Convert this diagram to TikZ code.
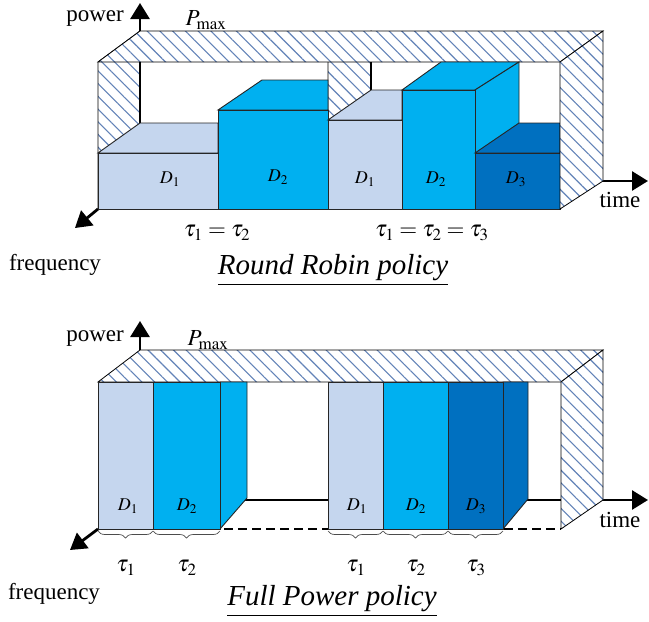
\documentclass[tikz,border=0pt]{standalone}
\usepackage{mathptmx}
\usepackage{fontspec}
\setmainfont{Liberation Serif}
\usetikzlibrary{arrows.meta,patterns.meta,decorations.pathreplacing}
\definecolor{dlight}{HTML}{C5D6EE}
\definecolor{dmid}{HTML}{00B0F0}
\definecolor{ddark}{HTML}{0070C0}
\definecolor{hatchblue}{HTML}{6383B8}

\begin{document}
\begin{tikzpicture}[x=1pt, y=-1pt,
    every node/.style={font=\rmfamily\fontsize{23}{26}\selectfont},
    hatch/.style={draw=black, line width=0.8pt, preaction={fill=white},
                  pattern={Lines[angle=-45,distance=9pt,line width=1.1pt]},
                  pattern color=hatchblue},
    blk/.style={draw=black!85, line width=0.9pt},
    axis/.style={line width=2.8pt, -{Triangle[length=16pt,width=19pt]}},
    thickln/.style={line width=2.6pt},
    lbl/.style={font=\rmfamily\fontsize{18}{20}\selectfont},
    title/.style={font=\rmfamily\fontsize{29}{32}\selectfont\itshape},
    brc/.style={decorate, decoration={brace, mirror, amplitude=7pt},
                draw=black!70, line width=0.7pt}
  ]
  \useasboundingbox (0,0) rectangle (649,622);

  % round robin
  \draw[axis] (140,181) -- (140,3);
  \draw[axis] (140,181) -- (648,181);
  \draw[axis] (98,209) -- (75,228);
  \draw[hatch] (98,209) -- (140,181) -- (140,31) -- (98,62) -- cycle;
  \draw[hatch] (328,209) -- (371,181) -- (371,31) -- (328,62) -- cycle;
  \draw[hatch] (98,62) -- (140,31) -- (603,31) -- (560,62) -- cycle;
  \draw[thickln] (140,62) -- (140,181);
  \draw[thickln] (371,62) -- (371,181);

  \draw[blk, fill=dlight] (98,153) -- (140,123) -- (218,123) -- (218,153) -- cycle;
  \draw[blk, fill=dlight] (98,153) rectangle (218,209);
  \draw[blk, fill=dmid] (218,110) -- (262,80) -- (328,80) -- (328,110) -- cycle;
  \draw[blk, fill=dmid] (218,110) rectangle (328,209);

  \draw[blk, fill=dlight] (328,120) -- (371,90) -- (402,90) -- (402,120) -- cycle;
  \draw[blk, fill=dlight] (328,120) rectangle (402,209);
  \draw[blk, fill=dmid] (402,90) -- (441,62) -- (519,62) -- (475,90) -- cycle;
  \draw[blk, fill=dmid] (475,90) -- (519,62) -- (519,181) -- (475,209) -- cycle;
  \draw[blk, fill=dmid] (402,90) rectangle (475,209);
  \draw[blk, fill=ddark] (475,153) -- (519,123) -- (560,123) -- (560,153) -- cycle;
  \draw[blk, fill=ddark] (475,153) rectangle (560,209);
  \draw[hatch] (560,209) -- (603,181) -- (603,31) -- (560,62) -- cycle;

  \node[lbl] (d11) at (170,179) {$D_1$};
  \node[lbl] (d21) at (278,177) {$D_2$};
  \node[lbl] (d12) at (365,179) {$D_1$};
  \node[lbl] (d22) at (436,179) {$D_2$};
  \node[lbl] (d32) at (516,179) {$D_3$};

  \node (pw1) at (95,19) {power};
  \node (pm1) at (206,20) {$P_{\max}$};
  \node (tm1) at (620,200) {time};
  \node (fq1) at (55,265) {frequency};
  \node (ta1) at (217,233) {$\tau_1=\tau_2$};
  \node (tb1) at (432,233) {$\tau_1=\tau_2=\tau_3$};
  \node[title] (tt1) at (333,270) {\underline{Round Robin policy}};

  % full power
  \draw[axis] (140,350) -- (140,321);
  \draw[axis] (140,500) -- (648,500);
  \draw[dash pattern=on 9pt off 5pt, line width=1.1pt] (98,529) -- (561,529);
  \draw[axis] (98,529) -- (70,550);
  \draw[hatch] (98,382) -- (140,350) -- (603,350) -- (561,382) -- cycle;
  \draw[hatch] (561,529) -- (603,500) -- (603,350) -- (561,382) -- cycle;

  \draw[blk, fill=dlight] (98,382) rectangle (153,529);
  \draw[blk, fill=dmid] (220,382) -- (247,382) -- (247,498) -- (220,529) -- cycle;
  \draw[blk, fill=dmid] (153,382) rectangle (220,529);
  \draw[blk, fill=dlight] (328,382) rectangle (383,529);
  \draw[blk, fill=dmid] (383,382) rectangle (448,529);
  \draw[blk, fill=ddark] (503,382) -- (528,382) -- (528,499) -- (503,529) -- cycle;
  \draw[blk, fill=ddark] (448,382) rectangle (503,529);

  \node[lbl] (d13) at (128,506) {$D_1$};
  \node[lbl] (d23) at (187,506) {$D_2$};
  \node[lbl] (d14) at (357,506) {$D_1$};
  \node[lbl] (d24) at (416,506) {$D_2$};
  \node[lbl] (d34) at (476,506) {$D_3$};

  \draw[brc] (98,531) -- (153,531);
  \draw[brc] (153,531) -- (220,531);
  \draw[brc] (328,531) -- (383,531);
  \draw[brc] (383,531) -- (448,531);
  \draw[brc] (448,531) -- (503,531);

  \node (pw2) at (95,339) {power};
  \node (pm2) at (208,340) {$P_{\max}$};
  \node (tm2) at (620,520) {time};
  \node (fq2) at (54,594) {frequency};
  \node (ta2) at (126,568) {$\tau_1$};
  \node (tb2) at (187,568) {$\tau_2$};
  \node (tc2) at (356,568) {$\tau_1$};
  \node (td2) at (416,568) {$\tau_2$};
  \node (te2) at (476,568) {$\tau_3$};
  \node[title] (tt2) at (332,601) {\underline{Full Power policy}};
\end{tikzpicture}
\end{document}
